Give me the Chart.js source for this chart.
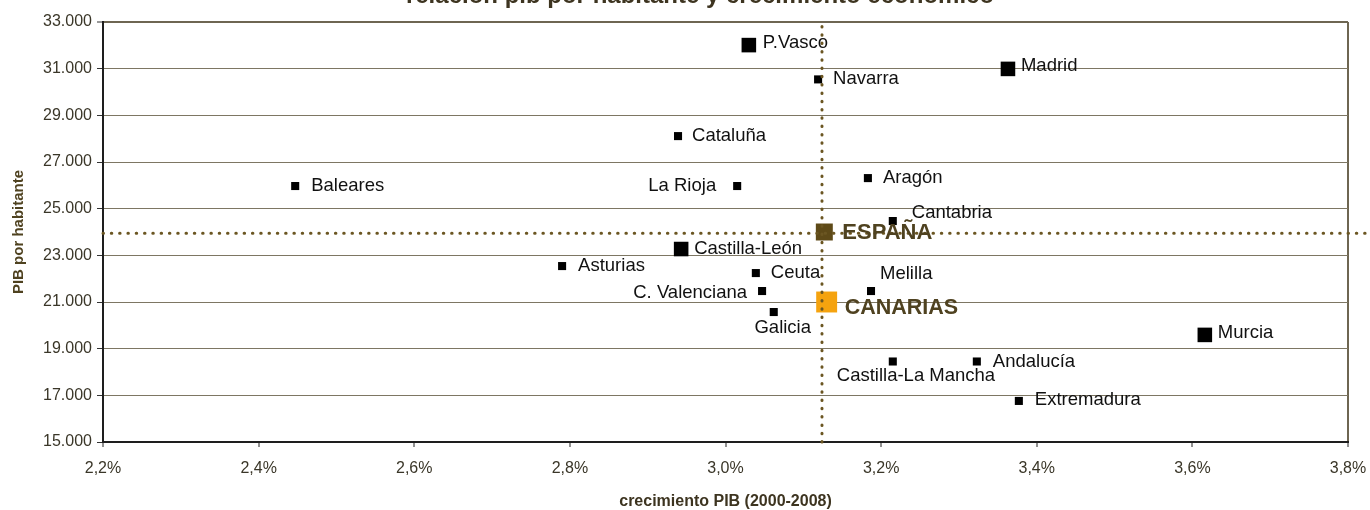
<!DOCTYPE html>
<html>
<head>
<meta charset="utf-8">
<script src="https://cdn.jsdelivr.net/npm/chart.js@4/dist/chart.umd.min.js"></script>
<style>
    html, body { margin: 0; padding: 0; background: #fff; }
    #wrap { width: 1370px; height: 510px; }
</style>
</head>
<body>
<div id="wrap"><canvas id="myChart" width="1370" height="510"></canvas></div>
<script>
const chartTitle = 'relación pib por habitante y crecimiento económico';
const xAxisTitle = 'crecimiento PIB (2000-2008)';
const yAxisTitle = 'PIB por habitante';

const regiones = ['P.Vasco', 'Navarra', 'Madrid', 'Cataluña', 'Baleares', 'La Rioja', 'Aragón', 'Cantabria',
    'Castilla-León', 'Asturias', 'Ceuta', 'C. Valenciana', 'Melilla', 'Galicia', 'Murcia',
    'Castilla-La Mancha', 'Andalucía', 'Extremadura'];
const crecimiento = [3.030, 3.119, 3.363, 2.939, 2.447, 3.015, 3.183, 3.215,
    2.943, 2.790, 3.039, 3.047, 3.187, 3.062, 3.616,
    3.215, 3.323, 3.377];
const pibHabitante = [32010, 30540, 30990, 28110, 25970, 25970, 26310, 24470,
    23270, 22540, 22240, 21470, 21470, 20570, 19590,
    18450, 18450, 16760];

const espanaNombre = 'ESPAÑA';
const espanaCrecimiento = 3.127;
const espanaPib = 24000;
const canariasNombre = 'CANARIAS';
const canariasCrecimiento = 3.130;
const canariasPib = 21000;

// medias de referencia (lineas punteadas)
const mediaCrecimiento = 3.124;
const mediaPib = 23950;

const xTickLabels = ['2,2%', '2,4%', '2,6%', '2,8%', '3,0%', '3,2%', '3,4%', '3,6%', '3,8%'];
const yTickLabels = ['15.000', '17.000', '19.000', '21.000', '23.000', '25.000', '27.000', '29.000', '31.000', '33.000'];

// estilos
const regionesGrandes = ['P.Vasco', 'Madrid', 'Castilla-León', 'Murcia'];
const labelOffsets = {
    'P.Vasco': [14, -2, 'left'],
    'Navarra': [15, 0, 'left'],
    'Madrid': [13, -3, 'left'],
    'Cataluña': [14, 0, 'left'],
    'Baleares': [16, 0, 'left'],
    'La Rioja': [-21, 0, 'right'],
    'Aragón': [15, 0, 'left'],
    'Cantabria': [19, -8, 'left'],
    'Castilla-León': [13, 0, 'left'],
    'Asturias': [16, 0, 'left'],
    'Ceuta': [15, 0, 'left'],
    'C. Valenciana': [-15, 2, 'right'],
    'Melilla': [9, -17, 'left'],
    'Galicia': [9, 16, 'center'],
    'Murcia': [13, -2, 'left'],
    'Castilla-La Mancha': [-56, 14, 'left'],
    'Andalucía': [16, 0, 'left'],
    'Extremadura': [16, -1, 'left'],
    'ESPAÑA': [18, 1, 'left'],
    'CANARIAS': [18, 6, 'left']
};
const FONT = "'Liberation Sans', Arial, sans-serif";
const brown = '#4f4220';
const dotColor = '#6b5622';

Chart.defaults.font.family = FONT;

const etiquetas = {
    id: 'etiquetas',
    afterDatasetsDraw(chart) {
        const ctx = chart.ctx;
        ctx.save();
        ctx.textBaseline = 'middle';
        chart.data.datasets.forEach((ds, di) => {
            if (!ds.nombres) return;
            const meta = chart.getDatasetMeta(di);
            meta.data.forEach((pt, i) => {
                const name = ds.nombres[i];
                const off = labelOffsets[name] || [14, 0, 'left'];
                ctx.font = ds.labelFont;
                ctx.fillStyle = ds.labelColor;
                ctx.textAlign = off[2];
                ctx.fillText(name, pt.x + off[0], pt.y + off[1]);
            });
        });
        // titulo (cortado arriba como en el original)
        ctx.font = 'bold 24px ' + FONT;
        ctx.fillStyle = '#3d3420';
        ctx.textAlign = 'center';
        ctx.textBaseline = 'alphabetic';
        ctx.fillText(chartTitle, 700, 3);
        ctx.restore();
    }
};

const isVal = (v, t) => Math.abs(v - t) < 1e-6;

const chart = new Chart(document.getElementById('myChart'), {
    type: 'scatter',
    data: {
        datasets: [
            {
                type: 'line',
                data: [{ x: 2.2, y: mediaPib }, { x: 3.822, y: mediaPib }],
                borderColor: dotColor,
                borderWidth: 3,
                borderDash: [0.5, 7.8],
                borderCapStyle: 'round',
                pointRadius: 0,
                clip: false
            },
            {
                type: 'line',
                data: [{ x: mediaCrecimiento, y: 15000 }, { x: mediaCrecimiento, y: 33000 }],
                borderColor: dotColor,
                borderWidth: 3,
                borderDash: [0.5, 7.8],
                borderCapStyle: 'round',
                pointRadius: 0,
                clip: false
            },
            {
                data: [{ x: espanaCrecimiento, y: espanaPib }],
                nombres: [espanaNombre],
                labelFont: 'bold 22px ' + FONT,
                labelColor: brown,
                pointStyle: 'rect',
                pointRadius: 12,
                backgroundColor: '#5e4a18',
                borderWidth: 0
            },
            {
                data: [{ x: canariasCrecimiento, y: canariasPib }],
                nombres: [canariasNombre],
                labelFont: 'bold 21.5px ' + FONT,
                labelColor: brown,
                pointStyle: 'rect',
                pointRadius: 14.8,
                backgroundColor: '#f5a30f',
                borderWidth: 0
            },
            {
                data: regiones.map((r, i) => ({ x: crecimiento[i], y: pibHabitante[i] })),
                nombres: regiones,
                labelFont: '18.5px ' + FONT,
                labelColor: '#111',
                pointStyle: 'rect',
                pointRadius: regiones.map(r => regionesGrandes.includes(r) ? 10.3 : 5.7),
                backgroundColor: '#000',
                borderWidth: 0
            }
        ]
    },
    options: {
        responsive: false,
        animation: false,
        layout: { padding: { top: 22, right: 22, left: 0, bottom: 0 } },
        plugins: {
            legend: { display: false },
            tooltip: { enabled: false },
            title: { display: false }
        },
        scales: {
            x: {
                type: 'linear',
                min: 2.2,
                max: 3.8,
                afterFit: (s) => {
                    s.height = 68;
                    s.paddingLeft = 0;
                    s.paddingRight = 0;
                },
                ticks: {
                    stepSize: 0.2,
                    padding: 12,
                    color: '#3a3628',
                    font: { size: 16 },
                    callback: (v, i) => xTickLabels[i]
                },
                grid: {
                    color: (c) => c.tick && isVal(c.tick.value, 3.8) ? '#6e6652' : 'rgba(0,0,0,0)',
                    lineWidth: 2,
                    tickLength: 5,
                    tickColor: '#222',
                    tickWidth: 1
                },
                border: { color: '#1e1e1e', width: 2 },
                title: {
                    display: true,
                    text: xAxisTitle,
                    color: '#3d3420',
                    font: { size: 16, weight: 'bold', lineHeight: 1 },
                    padding: { top: 0, bottom: 0 }
                }
            },
            y: {
                min: 15000,
                max: 33000,
                afterFit: (s) => {
                    s.width = 103;
                    s.paddingTop = 0;
                    s.paddingBottom = 0;
                },
                ticks: {
                    stepSize: 2000,
                    padding: 5,
                    color: '#3a3628',
                    font: { size: 16 },
                    callback: (v, i) => yTickLabels[i]
                },
                grid: {
                    color: (c) => c.tick && c.tick.value === 33000 ? '#6e6652' : '#7d7663',
                    lineWidth: (c) => c.tick && c.tick.value === 33000 ? 2 : 1,
                    tickLength: 6,
                    tickColor: '#333',
                    tickWidth: 1
                },
                border: { color: '#1e1e1e', width: 2 },
                title: {
                    display: true,
                    text: yAxisTitle,
                    color: brown,
                    font: { size: 15, weight: 'bold' },
                    padding: { top: 10, bottom: 0 }
                }
            }
        }
    },
    plugins: [etiquetas]
});
</script>
</body>
</html>
